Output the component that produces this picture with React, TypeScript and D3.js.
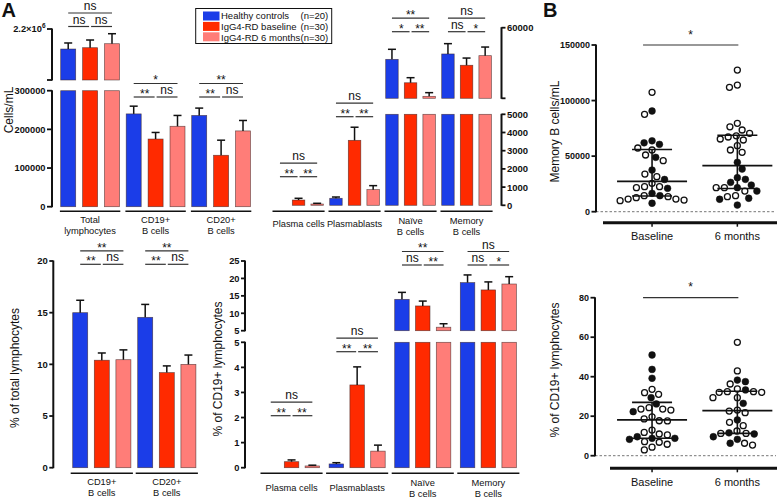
import React from 'react';
import * as d3 from 'd3';

const FONT = '"Liberation Sans", Arial, Helvetica, sans-serif';
const SERIES_COLORS = ['#1b3de8', '#ff2a00', '#ff7d78'];
const INK = '#111';

// ---------------- data ----------------
const seriesNames = ['Healthy controls', 'IgG4-RD baseline', 'IgG4-RD 6 months'];
const seriesN = ['(n=20)', '(n=30)', '(n=30)'];

// Panel A, top-left: cells/mL
const countGroups = [['Total', 'lymphocytes'], ['CD19+', 'B cells'], ['CD20+', 'B cells']];
const countMean = [[1729000, 1760000, 1854000], [240000, 175000, 208000], [236000, 133000, 196000]];
const countSem = [[142000, 181000, 235000], [20000, 17000, 28000], [19000, 39000, 27000]];
const countSig = [['ns', 'ns', 'ns'], ['*', '**', 'ns'], ['**', '**', 'ns']];
const countTicksLow = [0, 100000, 200000, 300000];
const countTicksHigh = [2200000];

// Panel A, top-middle: subsets cells/mL
const subsetGroups = [['Plasma cells'], ['Plasmablasts'], ['Naïve', 'B cells'], ['Memory', 'B cells']];
const subsetMean = [[0, 290, 70], [385, 3570, 860], [37600, 21000, 11400], [41400, 33400, 40200]];
const subsetSem = [[0, 95, 40], [70, 720, 220], [7100, 3600, 2600], [7300, 5100, 6100]];
const subsetSig = [['ns', '**', '**'], ['ns', '**', '**'], ['**', '*', '**'], ['ns', 'ns', '*']];
const subsetTicksLow = [0, 1000, 2000, 3000, 4000, 5000];
const subsetTicksHigh = [60000];

// Panel A, bottom-left: % of total lymphocytes
const pctTotGroups = [['CD19+', 'B cells'], ['CD20+', 'B cells']];
const pctTotMean = [[15.0, 10.4, 10.45], [14.55, 9.2, 10.0]];
const pctTotSem = [[1.2, 0.7, 0.95], [1.25, 0.65, 0.9]];
const pctTotSig = [['**', '**', 'ns'], ['**', '**', 'ns']];
const pctTotTicks = [0, 5, 10, 15, 20];

// Panel A, bottom-middle: % of CD19+ lymphocytes
const pctCd19Groups = [['Plasma cells'], ['Plasmablasts'], ['Naïve', 'B cells'], ['Memory', 'B cells']];
const pctCd19Mean = [[0, 0.24, 0.07], [0.15, 3.3, 0.66], [14.0, 12.1, 6.0], [18.8, 16.7, 18.4]];
const pctCd19Sem = [[0, 0.07, 0.03], [0.05, 0.72, 0.24], [2.0, 1.4, 1.0], [2.2, 2.3, 2.1]];
const pctCd19Sig = [['ns', '**', '**'], ['ns', '**', '**'], ['**', 'ns', '**'], ['ns', 'ns', '*']];
const pctCd19TicksLow = [0, 1, 2, 3, 4, 5];
const pctCd19TicksHigh = [5, 10, 15, 20, 25];

// Panel B
const bCategories = ['Baseline', '6 months'];
const memBaseline = [107400, 90600, 87600, 62000, 55500, 57300, 60600, 63800, 48900, 45900, 51000, 37500, 33900, 31500, 29000, 22500, 21600, 21000, 22500, 25500, 14400, 13500, 11400, 10500, 7600, 9900, 11400, 12600, 14400, 16500];
const memBaselineFilled = [0, 1, 0, 1, 0, 0, 1, 1, 1, 0, 0, 1, 0, 0, 1, 0, 0, 1, 0, 0, 1, 0, 0, 0, 1, 0, 0, 0, 0, 1];
const mem6m = [127400, 113900, 111900, 79500, 73500, 76400, 70500, 68300, 64500, 67200, 65400, 59400, 53400, 55500, 44400, 38400, 29100, 30600, 24000, 21600, 18600, 18600, 21600, 21600, 26400, 14400, 12100, 13500, 11200, 6000];
const mem6mFilled = [0, 0, 0, 0, 0, 0, 0, 0, 0, 0, 0, 0, 0, 0, 1, 1, 1, 1, 1, 1, 0, 1, 0, 0, 1, 0, 1, 0, 1, 1];
const pctBaseline = [51.0, 43.7, 39.2, 33.6, 31.1, 31.9, 29.4, 26.2, 24.3, 23.1, 23.6, 23.6, 22.3, 19.7, 17.7, 17.6, 13.0, 11.0, 9.6, 8.8, 8.3, 8.8, 10.5, 11.8, 7.1, 5.8, 2.9, 4.3, 6.8, 18.6];
const pctBaselineFilled = [1, 1, 1, 0, 0, 0, 1, 1, 0, 0, 0, 0, 1, 0, 0, 0, 0, 0, 1, 1, 1, 1, 0, 0, 0, 0, 0, 0, 0, 0];
const pct6m = [57.4, 42.9, 38.3, 37.5, 36.3, 33.3, 32.1, 32.1, 33.8, 32.4, 32.4, 29.4, 29.4, 26.5, 22.6, 21.8, 23.1, 18.1, 16.9, 15.2, 11.6, 11.0, 11.3, 11.3, 12.5, 9.6, 8.3, 6.3, 5.4, 6.3];
const pct6mFilled = [0, 0, 1, 1, 0, 1, 0, 0, 0, 0, 0, 0, 0, 1, 0, 0, 0, 1, 0, 0, 1, 1, 0, 0, 0, 1, 1, 0, 0, 1];
const memTicks = [0, 50000, 100000, 150000];
const pctTicks = [0, 20, 40, 60, 80];
const bSig = '*';

// ---------------- helpers ----------------
function SigText({ x, lineY, label }: { x: number; lineY: number; label: string }) {
  const isStar = label.includes('*');
  return (
    <text x={x} y={isStar ? lineY + 0.8 : lineY - 3} textAnchor="middle" fontSize={12} fill={INK}>
      {label}
    </text>
  );
}

function VAxis(p: any) {
  const { x, side, segments, tickLen, fontSize } = p;
  const dir = side === 'left' ? -1 : 1;
  const out: any[] = [];
  segments.forEach((seg: any, k: number) => {
    const s = seg.scale;
    const [d0, d1] = s.domain();
    out.push(<line key={'ax' + k} x1={x} x2={x} y1={s(d0) + 0.5} y2={s(d1) - 0.5} stroke={INK} strokeWidth={2} />);
    seg.ticks.forEach((t: any, i: number) => {
      const y = s(t.v);
      out.push(<line key={'t' + k + '_' + i} x1={x} x2={x + dir * tickLen} y1={y} y2={y} stroke={INK} strokeWidth={1.8} />);
      if (t.label !== null) {
        out.push(
          <text key={'l' + k + '_' + i} x={x + dir * (tickLen + 1.5)} y={y + fontSize * 0.36} textAnchor={side === 'left' ? 'end' : 'start'}
            fontSize={fontSize} fontWeight="bold" fill={INK}>
            {t.label}
          </text>
        );
      }
    });
  });
  return <g>{out}</g>;
}

function BarPanel(p: any) {
  const n = p.groups.length;
  const contentW = 2 * p.innerStep + p.barW;
  const pI = 1 - contentW / p.groupStep;
  const gx = d3.scaleBand<number>().domain(d3.range(n)).range([p.x0, p.x0 + p.groupStep * (n - pI)]).paddingInner(pI).paddingOuter(0);
  const sx = d3.scaleBand<number>().domain([0, 1, 2]).range([0, gx.bandwidth()]).paddingInner(1 - p.barW / p.innerStep).paddingOuter(0);
  const bw = sx.bandwidth();
  const yLow = d3.scaleLinear().domain(p.lowDomain).range(p.lowRange);
  const yHigh = p.highDomain ? d3.scaleLinear().domain(p.highDomain).range(p.highRange) : null;
  const lowMax = p.lowDomain[1];
  const bars: any[] = [];
  p.means.forEach((row: number[], gi: number) =>
    row.forEach((v: number, si: number) => {
      if (!v) return;
      const x = (gx(gi) as number) + (sx(si) as number);
      const cx = x + bw / 2;
      const e = p.sems[gi][si];
      const rects: [number, number][] = [];
      let topY: number, errY: number;
      if (yHigh && v > lowMax) {
        rects.push([yLow(lowMax), yLow(0)]);
        rects.push([yHigh(v), yHigh(p.highDomain[0])]);
        topY = yHigh(v);
        errY = yHigh(v + e);
      } else {
        rects.push([yLow(v), yLow(0)]);
        topY = yLow(v);
        errY = yLow(v + e);
      }
      rects.forEach(([y0, y1], k) =>
        bars.push(<rect key={`b${gi}_${si}_${k}`} x={x} y={y0} width={bw} height={y1 - y0} fill={SERIES_COLORS[si]} stroke="#3a2222" strokeWidth={0.7} strokeOpacity={0.7} />)
      );
      bars.push(<line key={`e${gi}_${si}`} x1={cx} x2={cx} y1={topY} y2={errY} stroke={INK} strokeWidth={1.5} />);
      bars.push(<line key={`c${gi}_${si}`} x1={cx - 4} x2={cx + 4} y1={errY} y2={errY} stroke={INK} strokeWidth={1.5} />);
    })
  );

  const cats: any[] = [];
  const sig: any[] = [];
  p.groups.forEach((lab: string[], gi: number) => {
    const g0 = gx(gi) as number;
    cats.push(<line key={'cl' + gi} x1={g0 - p.catPad} x2={g0 + gx.bandwidth() + p.catPad} y1={p.catLineY} y2={p.catLineY} stroke={INK} strokeWidth={1.6} />);
    const cxm = g0 + gx.bandwidth() / 2;
    if (lab.length === 1) {
      cats.push(<text key={'ct' + gi} x={cxm} y={p.catSingleY} textAnchor="middle" fontSize={9.3} fill={INK}>{lab[0]}</text>);
    } else {
      lab.forEach((l, k) =>
        cats.push(<text key={'ct' + gi + '_' + k} x={cxm} y={p.catLabelY[k]} textAnchor="middle" fontSize={9.3} fill={INK}>{l}</text>)
      );
    }
    const c = [0, 1, 2].map((s) => g0 + (sx(s) as number) + bw / 2);
    const subY = p.sigY[gi];
    const topY = subY - 13.5;
    const [tl, ll, rl] = p.sigs[gi];
    sig.push(<line key={'s1' + gi} x1={c[0]} x2={c[2]} y1={topY} y2={topY} stroke="#333" strokeWidth={1.2} />);
    sig.push(<line key={'s2' + gi} x1={c[0]} x2={c[1] - 1} y1={subY} y2={subY} stroke="#333" strokeWidth={1.2} />);
    sig.push(<line key={'s3' + gi} x1={c[1] + 1} x2={c[2]} y1={subY} y2={subY} stroke="#333" strokeWidth={1.2} />);
    sig.push(<SigText key={'st1' + gi} x={(c[0] + c[2]) / 2} lineY={topY} label={tl} />);
    sig.push(<SigText key={'st2' + gi} x={(c[0] + c[1]) / 2} lineY={subY} label={ll} />);
    sig.push(<SigText key={'st3' + gi} x={(c[1] + c[2]) / 2} lineY={subY} label={rl} />);
  });

  const segments: any[] = [
    { scale: yLow, ticks: p.ticksLow.map((v: number) => ({ v, label: p.fmt(v) })) },
  ];
  if (yHigh) {
    const hi = p.ticksHigh.map((v: number) => ({ v, label: p.fmt(v) }));
    if (!p.ticksHigh.includes(p.highDomain[0])) hi.push({ v: p.highDomain[0], label: null });
    segments.push({ scale: yHigh, ticks: hi });
  }

  return (
    <g>
      {bars}
      {cats}
      {sig}
      <VAxis x={p.axisX} side={p.axisSide} segments={segments} tickLen={p.tickLen} fontSize={p.tickFont} />
      {p.yLabel && (
        <text x={p.yLabel.x} y={p.yLabel.y} transform={`rotate(-90, ${p.yLabel.x}, ${p.yLabel.y})`} textAnchor="middle"
          dominantBaseline="central" fontSize={12} fill={INK}>
          {p.yLabel.text}
        </text>
      )}
    </g>
  );
}

function beeswarm(ys: number[], d: number): number[] {
  const order = d3.range(ys.length).sort((a, b) => ys[a] - ys[b]);
  const placed: { x: number; y: number }[] = [];
  const xs = new Array(ys.length).fill(0);
  order.forEach((i, k) => {
    const y = ys[i];
    const near = placed.filter((q) => Math.abs(q.y - y) < d);
    const cands = [0];
    near.forEach((q) => {
      const dx = Math.sqrt(d * d - (q.y - y) ** 2);
      cands.push(q.x - dx, q.x + dx);
    });
    const sgn = k % 2 === 0 ? 1 : -1;
    cands.sort((a, b) => Math.abs(a) - Math.abs(b) || sgn * (a - b));
    const x = cands.find((c) => near.every((q) => (q.x - c) ** 2 + (q.y - y) ** 2 >= d * d - 1e-6)) ?? 0;
    xs[i] = x;
    placed.push({ x, y });
  });
  return xs;
}

function prismQuantile(vals: number[], p: number) {
  const s = vals.slice().sort((a, b) => a - b);
  const pos = (s.length + 1) * p;
  const lo = Math.floor(pos);
  const f = pos - lo;
  return s[lo - 1] + f * (s[lo] - s[lo - 1]);
}

function ScatterPanel(p: any) {
  const y = d3.scaleLinear().domain(p.domain).range(p.range);
  const x = d3.scaleBand<string>().domain(bCategories).range([609.4, 780]).padding(0);
  const els: any[] = [];
  p.data.forEach((grp: any, gi: number) => {
    const cx = (x(bCategories[gi]) as number) + x.bandwidth() / 2;
    const ys = grp.vals.map((v: number) => y(v));
    const offs = beeswarm(ys, 8.2);
    grp.vals.forEach((v: number, i: number) => {
      const filled = grp.filled[i] === 1;
      els.push(
        <circle key={`p${gi}_${i}`} cx={cx + offs[i]} cy={ys[i]} r={filled ? 3.4 : 3.0}
          fill={filled ? INK : '#fff'} stroke={INK} strokeWidth={filled ? 0.5 : 1.3} />
      );
    });
    const med = prismQuantile(grp.vals, 0.5);
    const q1 = prismQuantile(grp.vals, 0.25);
    const q3 = prismQuantile(grp.vals, 0.75);
    els.push(<line key={'v' + gi} x1={cx} x2={cx} y1={y(q3)} y2={y(q1)} stroke={INK} strokeWidth={1.6} />);
    els.push(<line key={'q1' + gi} x1={cx - 20} x2={cx + 20} y1={y(q1)} y2={y(q1)} stroke={INK} strokeWidth={1.6} />);
    els.push(<line key={'q3' + gi} x1={cx - 20} x2={cx + 20} y1={y(q3)} y2={y(q3)} stroke={INK} strokeWidth={1.6} />);
    els.push(<line key={'m' + gi} x1={cx - 35} x2={cx + 35} y1={y(med)} y2={y(med)} stroke={INK} strokeWidth={1.8} />);
    els.push(<line key={'ct' + gi} x1={cx} x2={cx} y1={p.catLineY} y2={p.catLineY + 4} stroke={INK} strokeWidth={1.5} />);
    els.push(<text key={'cl' + gi} x={cx} y={p.catLineY + 17.5} textAnchor="middle" fontSize={11} fill={INK}>{bCategories[gi]}</text>);
  });
  const c0 = (x(bCategories[0]) as number) + x.bandwidth() / 2;
  const c1 = (x(bCategories[1]) as number) + x.bandwidth() / 2;
  return (
    <g>
      <line x1={p.axisX} x2={776} y1={y(0)} y2={y(0)} stroke="#777" strokeWidth={1} strokeDasharray="2.5,2" />
      {els}
      <line x1={p.catX0} x2={777} y1={p.catLineY} y2={p.catLineY} stroke={INK} strokeWidth={3} />
      <line x1={c0 - 9} x2={c1 + 1} y1={y(p.domain[1])} y2={y(p.domain[1])} stroke="#333" strokeWidth={1.2} />
      <text x={(c0 - 9 + c1 + 1) / 2} y={y(p.domain[1]) - 6.5} textAnchor="middle" fontSize={12} fill={INK}>{bSig}</text>
      <VAxis x={p.axisX} side="left" tickLen={4.5} fontSize={9}
        segments={[{ scale: y, ticks: p.ticks.map((v: number) => ({ v, label: String(v) })) }]} />
      <text x={555} y={p.labelY} transform={`rotate(-90, 555, ${p.labelY})`} textAnchor="middle" dominantBaseline="central" fontSize={12} fill={INK}>
        {p.label}
      </text>
    </g>
  );
}

function Legend() {
  return (
    <g>
      <rect x={195.7} y={8.5} width={136} height={35} fill="#fff" stroke={INK} strokeWidth={1} />
      {seriesNames.map((s, i) => (
        <g key={s}>
          <rect x={203} y={11.5 + i * 10.4} width={16.5} height={9} fill={SERIES_COLORS[i]} />
          <text x={221} y={19.4 + i * 10.6} fontSize={9.5} fill={INK}>{s}</text>
          <text x={300.5} y={19.4 + i * 10.6} fontSize={9.5} fill={INK}>{seriesN[i]}</text>
        </g>
      ))}
    </g>
  );
}

export default function App() {
  const fmtCount = (v: number) =>
    v >= 1000000 ? (
      <>
        {(v / 1000000).toFixed(1) + '×10'}
        <tspan fontSize={6.5} dy={-4}>6</tspan>
      </>
    ) : (
      String(v)
    );
  return (
    <svg width={778} height={498} viewBox="0 0 778 498" style={{ position: 'absolute', left: 0, top: 0, background: '#fff' }} fontFamily={FONT}>
      <rect width={778} height={498} fill="#fff" />
      <text x={1.5} y={16.7} fontSize={20} fontWeight="bold" fill={INK}>A</text>
      <text x={543} y={16.7} fontSize={20} fontWeight="bold" fill={INK}>B</text>

      <BarPanel groups={countGroups} means={countMean} sems={countSem} sigs={countSig}
        x0={60.7} groupStep={65.5} innerStep={21.9} barW={15}
        lowDomain={[0, 300000]} lowRange={[206.7, 90.7]} highDomain={[1000000, 2200000]} highRange={[80, 29]}
        ticksLow={countTicksLow} ticksHigh={countTicksHigh} fmt={fmtCount}
        axisX={52} axisSide="left" tickLen={5} tickFont={9.3}
        catLineY={211.3} catPad={0.8} catLabelY={[223.3, 234]} catSingleY={226.5}
        sigY={[26.5, 97, 97]} yLabel={{ x: 8.5, y: 110, text: 'Cells/mL' }} />

      <BarPanel groups={subsetGroups} means={subsetMean} sems={subsetSem} sigs={subsetSig}
        x0={273.7} groupStep={56} innerStep={18.6} barW={12.5}
        lowDomain={[0, 5000]} lowRange={[205.3, 114.3]} highDomain={[10000, 60000]} highRange={[98.3, 27.7]}
        ticksLow={subsetTicksLow} ticksHigh={subsetTicksHigh} fmt={(v: number) => String(v)}
        axisX={501.5} axisSide="right" tickLen={4} tickFont={9.5}
        catLineY={211.3} catPad={1.2} catLabelY={[224, 235]} catSingleY={226.5}
        sigY={[176.7, 116.7, 31.7, 31.7]} />

      <BarPanel groups={pctTotGroups} means={pctTotMean} sems={pctTotSem} sigs={pctTotSig}
        x0={72.7} groupStep={65} innerStep={21.6} barW={15}
        lowDomain={[0, 20]} lowRange={[467.7, 261]}
        ticksLow={pctTotTicks} ticksHigh={[]} fmt={(v: number) => String(v)}
        axisX={53.3} axisSide="left" tickLen={4} tickFont={9.5}
        catLineY={473.3} catPad={2} catLabelY={[484.5, 496]} catSingleY={490.5}
        sigY={[264.3, 264.3]} yLabel={{ x: 15, y: 368, text: '% of total lymphocytes' }} />

      <BarPanel groups={pctCd19Groups} means={pctCd19Mean} sems={pctCd19Sem} sigs={pctCd19Sig}
        x0={263.5} groupStep={65.6} innerStep={20.8} barW={14.5}
        lowDomain={[0, 5]} lowRange={[467.7, 342.3]} highDomain={[5, 25]} highRange={[330.7, 261]}
        ticksLow={pctCd19TicksLow} ticksHigh={pctCd19TicksHigh} fmt={(v: number) => String(v)}
        axisX={245} axisSide="left" tickLen={4} tickFont={9.3}
        catLineY={473.3} catPad={3} catLabelY={[485.5, 496.5]} catSingleY={490.5}
        sigY={[415.7, 351.7, 265, 265]} yLabel={{ x: 218, y: 369, text: '% of CD19+ lymphocytes' }} />

      <Legend />

      <ScatterPanel domain={[0, 150000]} range={[211.7, 45]} ticks={memTicks} axisX={596}
        catLineY={222.7} catX0={603} labelY={131.5} label="Memory B  cells/mL"
        data={[{ vals: memBaseline, filled: memBaselineFilled }, { vals: mem6m, filled: mem6mFilled }]} />
      <ScatterPanel domain={[0, 80]} range={[455.7, 297.7]} ticks={pctTicks} axisX={595}
        catLineY={468.3} catX0={610} labelY={370} label="% of CD19+ lymphocytes"
        data={[{ vals: pctBaseline, filled: pctBaselineFilled }, { vals: pct6m, filled: pct6mFilled }]} />
    </svg>
  );
}
